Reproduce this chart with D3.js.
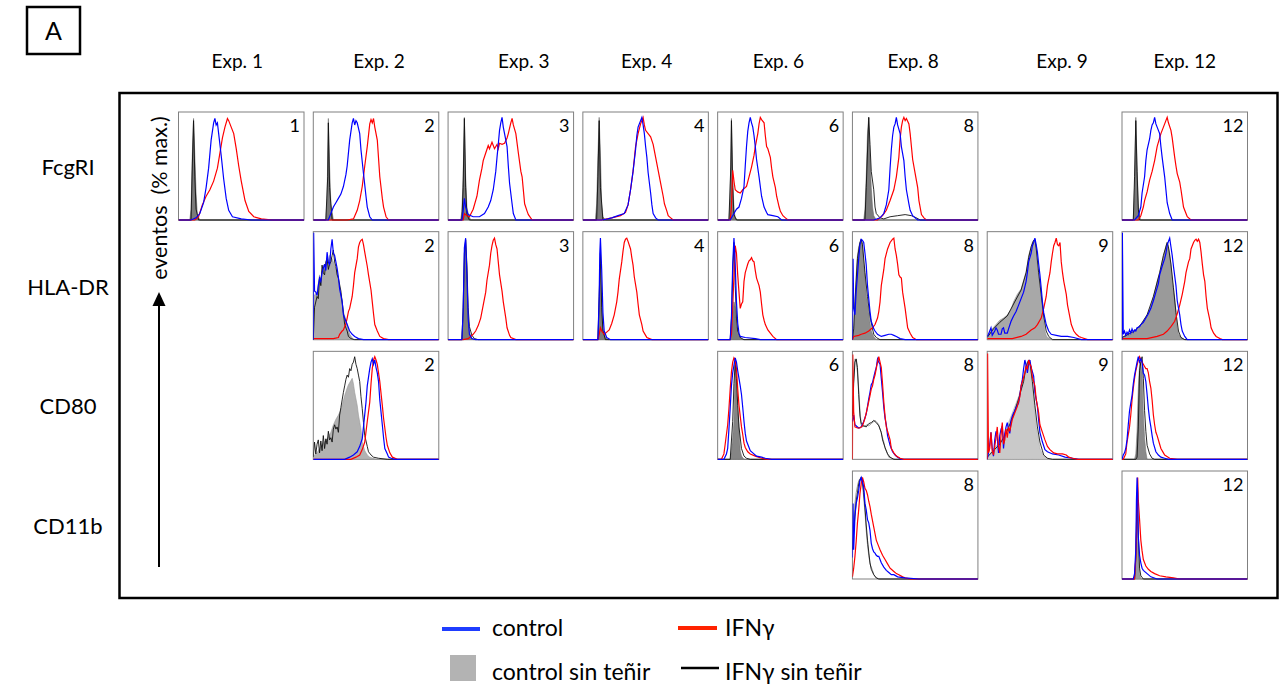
<!DOCTYPE html>
<html>
<head>
<meta charset="utf-8">
<script src="https://cdn.jsdelivr.net/npm/d3@7/dist/d3.min.js"></script>
<style>
  body { margin: 0; background: #fff; }
  text { font-family: Lato, "Open Sans", sans-serif; fill: #000; }
</style>
</head>
<body>
<svg id="fig" width="1281" height="687"></svg>
<script>
// columnas (experimentos) y filas (marcadores)
const exps = ["1", "2", "3", "4", "6", "8", "9", "12"];
const markers = ["FcgRI", "HLA-DR", "CD80", "CD11b"];

// histogramas: [canal (% ancho), eventos (% max.)]
// --- FcgRI ---
const fcgri1Gray = [[9,0],[10,10],[11,60],[12,94],[13,60],[14,25],[15,5],[17,0]];
const fcgri1Black = [[10,0],[11,50],[12,92],[13,40],[14,10],[16,0]];
const fcgri1Blue = [[10,0],[14,2],[17,6],[20,16],[22,30],[24,48],[26,74],[28,90],[29,94],[30,88],[31,90],[32,80],[34,60],[36,38],[38,20],[40,9],[43,3],[50,1],[58,0]];
const fcgri1Red = [[13,0],[16,3],[19,14],[22,22],[25,28],[28,36],[31,48],[33,62],[35,76],[37,86],[39,94],[40,92],[42,86],[44,80],[46,66],[48,50],[50,36],[53,18],[56,8],[60,3],[66,1],[75,0]];

const fcgri2Gray = [[10,0],[11,20],[12,94],[13,50],[14,15],[16,0]];
const fcgri2Black = [[10,0],[11.5,40],[12,90],[13,30],[15,0]];
const fcgri2Blue = [[12,0],[14,6],[16,12],[18,16],[20,20],[22,24],[24,31],[26,42],[27,50],[29,74],[31,90],[32,94],[33,88],[34,92],[35,90],[37,80],[38,65],[40,43],[42,22],[43,12],[45,3],[47,0]];
const fcgri2Red = [[27,0],[32,1],[35,9],[37,18],[39,31],[41,50],[43,68],[45,89],[46,93],[47,90],[48,94],[49,86],[51,74],[53,40],[55,20],[56,12],[58,3],[60,0]];

const fcgri3Gray = [[10,0],[11,8],[12,40],[13,95],[14,40],[15,12],[16,6],[18,0]];
const fcgri3Black = [[11,0],[12,30],[13,94],[14,30],[15,5],[17,0]];
const fcgri3Blue = [[11,0],[12,8],[13,20],[14,12],[16,5],[20,3],[25,3],[29,6],[32,12],[34,18],[36,28],[38,45],[39,58],[40,70],[41,83],[42,90],[43,95],[44,86],[45,80],[47,68],[48,50],[49,34],[51,15],[52,6],[54,0]];
const fcgri3Red = [[12,0],[13,6],[15,4],[17,3],[20,10],[23,22],[25,37],[27,48],[28,55],[30,62],[32,69],[33,66],[35,72],[37,66],[39,70],[40,66],[41,71],[43,70],[45,71],[47,76],[48,80],[50,90],[51,94],[52,88],[54,80],[56,62],[58,45],[59,40],[61,15],[63,8],[64,5],[67,0]];

const fcgri4Gray = [[10,0],[11,15],[12,60],[13,95],[14,60],[15,15],[16,3],[18,0]];
const fcgri4Black = [[11,0],[12,40],[13,92],[14,30],[16,0]];
const fcgri4Blue = [[15,0],[20,1],[23,2],[28,4],[33,6],[36,14],[38,28],[40,45],[42,65],[43,78],[44,86],[46,92],[47,95],[48,88],[49,80],[50,68],[51,58],[52,44],[54,25],[55,14],[56,6],[58,2],[60,0]];
const fcgri4Red = [[15,0],[23,2],[30,4],[34,7],[36,14],[38,28],[40,45],[42,68],[44,80],[46,89],[47,92],[48,95],[49,88],[50,83],[52,80],[54,77],[56,70],[58,58],[60,46],[62,34],[64,22],[65,15],[67,8],[68,4],[70,2],[72,0]];

const fcgri6Gray = [[9,0],[10,20],[11,94],[12,40],[13,10],[14,2],[16,0]];
const fcgri6Black = [[9,0],[10.5,50],[11,92],[12,30],[13,5],[15,0]];
const fcgri6Blue = [[10,0],[13,6],[15,10],[17,12],[19,20],[21,31],[22,50],[23,68],[24,82],[25,90],[26,95],[27,90],[28,86],[29,78],[30,68],[31,56],[33,40],[35,22],[37,12],[39,7],[40,5],[44,4],[48,3],[51,0]];
const fcgri6Red = [[10,0],[11,12],[12,46],[13,36],[14,28],[16,26],[18,25],[20,28],[23,31],[25,40],[27,49],[29,60],[30,68],[32,80],[33,89],[34,95],[35,93],[37,90],[38,78],[39,68],[40,66],[42,58],[43,48],[44,40],[46,30],[47,22],[49,12],[50,8],[52,4],[54,2],[56,0]];

const fcgri8Gray = [[9,0],[10,10],[11,40],[12,80],[13,95],[14,60],[15,30],[16,12],[17,4],[19,0]];
const fcgri8Black = [[10,0],[11,30],[13,95],[14,70],[15,45],[17,28],[18,12],[19,6],[22,2],[25,1],[30,3],[36,4],[42,5],[47,4],[51,2],[54,0]];
const fcgri8Blue = [[17,0],[22,2],[25,6],[27,14],[29,28],[30,48],[31,65],[32,78],[33,86],[34,89],[35,95],[36,88],[38,80],[39,68],[41,55],[42,40],[43,28],[45,15],[46,9],[48,4],[50,2],[52,0]];
const fcgri8Red = [[20,0],[24,4],[27,9],[30,18],[33,28],[35,40],[37,58],[38,75],[39,86],[40,92],[41,95],[42,92],[43,94],[45,89],[46,80],[47,68],[48,56],[50,43],[52,30],[53,18],[55,5],[57,2],[59,0]];

const fcgri12Gray = [[9,0],[10,30],[11,95],[12,50],[13,15],[14,3],[15,0]];
const fcgri12Black = [[9,0],[10,40],[11,92],[12,45],[13,10],[14,0]];
const fcgri12Blue = [[10,0],[13,4],[15,12],[16,25],[18,40],[19,55],[20,65],[22,75],[23,83],[24,88],[25,90],[26,95],[27,89],[28,86],[30,80],[31,68],[32,58],[34,40],[35,28],[36,16],[38,6],[40,0]];
const fcgri12Red = [[13,0],[15,4],[17,12],[18,18],[20,26],[22,37],[24,45],[26,55],[28,68],[30,76],[31,80],[33,86],[34,89],[36,95],[37,90],[39,83],[40,76],[42,58],[43,50],[44,43],[46,35],[47,28],[48,20],[49,12],[51,6],[52,3],[55,0]];

// --- HLA-DR ---
const hla2Gray = [[0,40],[3,44],[5,60],[6,55],[8,69],[9,64],[11,75],[12,70],[13,78],[15,75],[16,72],[18,66],[19,63],[20,55],[21,47],[23,36],[24,26],[26,18],[27,14],[29,5],[32,0]];
const hla2Black = [[1,30],[3,40],[4,38],[5,58],[6,50],[7,69],[8,62],[9,60],[10,72],[11,75],[12,65],[13,70],[14,72],[15,78],[16,83],[17,72],[18,68],[19,60],[20,57],[22,45],[23,35],[24,25],[25,14],[27,8],[28,3],[30,1],[33,0]];
const hla2Blue = [[0,0],[0.3,99],[1,45],[2,44],[3,41],[4,50],[5,57],[6,54],[7,62],[8,66],[9,70],[10,64],[11,81],[12,72],[13,69],[14,84],[15,93],[16,80],[17,78],[18,72],[19,66],[20,58],[21,47],[23,35],[24,23],[26,17],[27,14],[29,8],[31,5],[33,3],[36,1],[40,0]];
const hla2Red = [[0,1],[10,1],[16,1],[20,2],[21,5],[23,8],[24,9],[26,15],[27,20],[28,26],[29,29],[31,40],[32,50],[33,62],[35,75],[36,86],[37,90],[38,92],[39,93],[40,88],[41,81],[43,68],[44,60],[46,46],[47,35],[48,24],[49,14],[51,8],[53,3],[56,1],[60,0]];

const hla3Gray = [[11,0],[12,20],[13,70],[14,93],[15,60],[16,20],[17,8],[18,3],[20,0]];
const hla3Black = [[11,0],[12,30],[13,80],[14,92],[15,70],[16,30],[17,12],[19,4],[21,1],[24,0]];
const hla3Blue = [[11,0],[12,25],[13,85],[14,94],[15,60],[16,20],[17,5],[19,1],[22,0]];
const hla3Red = [[12,0],[16,1],[18,3],[20,5],[22,8],[24,13],[26,20],[28,32],[30,44],[31,55],[33,69],[34,80],[35,87],[36,92],[37,94],[38,88],[39,84],[40,72],[41,60],[43,45],[44,35],[46,20],[47,11],[49,4],[50,2],[54,0]];

const hla4Gray = [[12,0],[13,30],[13.5,65],[14,70],[15,35],[16,10],[18,2],[20,0]];
const hla4Black = [[12,0],[13,40],[14,80],[15,30],[16,8],[18,0]];
const hla4Blue = [[12,0],[13,40],[13.5,80],[14,94],[15,65],[16,25],[17,8],[19,2],[22,0]];
const hla4Red = [[12,0],[13,5],[14,11],[15,8],[17,5],[19,7],[21,9],[23,15],[25,23],[27,35],[28,44],[29,56],[31,72],[32,82],[33,90],[34,93],[35,94],[36,91],[38,84],[39,76],[40,69],[41,58],[43,44],[44,33],[45,23],[47,14],[48,8],[50,4],[51,2],[55,0]];

const hla6Gray = [[10,0],[11,8],[12,22],[13,35],[14,30],[15,15],[16,6],[18,2],[20,0]];
const hla6Black = [[10,0],[11,20],[12,60],[13,90],[14,50],[15,20],[16,8],[18,2],[21,0]];
const hla6Blue = [[10,0],[11,20],[12,70],[13,94],[14,70],[15,35],[16,15],[17,6],[18,3],[22,2],[30,1],[34,0]];
const hla6Red = [[10,0],[11,5],[12,30],[13,60],[14,87],[15,80],[16,60],[17,44],[18,29],[19,33],[20,35],[21,54],[22,62],[23,66],[24,70],[25,73],[26,74],[27,76],[28,73],[29,72],[30,64],[31,57],[33,50],[34,44],[35,33],[36,23],[37,18],[38,14],[40,9],[42,6],[44,3],[47,0]];

const hla8Gray = [[0,0],[1,8],[2,30],[3,60],[4,78],[5,86],[6,90],[7,93],[8,88],[9,70],[10,60],[11,42],[13,26],[14,16],[15,8],[17,3],[19,0]];
const hla8Black = [[0,0],[1,10],[2,35],[4,75],[6,90],[7,93],[8,88],[10,62],[12,40],[14,22],[16,10],[17,5],[19,2],[22,0]];
const hla8Blue = [[0,0],[0.5,75],[1,30],[2,23],[3,45],[4,60],[5,75],[6,88],[7,93],[8,92],[9,90],[10,80],[11,69],[12,50],[13,38],[14,26],[15,17],[17,10],[18,8],[20,5],[23,3],[26,4],[29,5],[31,5],[33,4],[35,3],[38,1],[42,0]];
const hla8Red = [[0,0],[1,3],[5,4],[7,5],[10,6],[13,8],[16,11],[18,14],[20,20],[21,26],[22,35],[23,50],[25,65],[26,75],[28,84],[30,90],[32,93],[33,94],[34,84],[35,78],[36,70],[37,60],[38,58],[39,57],[40,44],[42,29],[43,20],[44,11],[46,6],[48,2],[51,0]];

const hla9Gray = [[0,3],[1,5],[4,10],[7,14],[10,18],[13,20],[16,23],[19,28],[21,35],[24,42],[27,47],[29,55],[31,63],[32,70],[33,78],[35,86],[36,90],[37,92],[38,93],[39,85],[40,69],[41,60],[42,50],[43,40],[44,29],[45,18],[46,8],[47,4],[48,2],[53,0]];
const hla9Black = [[0,2],[5,10],[10,16],[16,22],[21,33],[27,46],[31,62],[33,76],[35,86],[37,92],[38,93],[39,85],[41,62],[43,42],[45,22],[47,8],[49,3],[52,0]];
const hla9Blue = [[0,3],[1,5],[3,11],[4,4],[6,8],[7,11],[8,9],[9,5],[11,5],[12,10],[13,11],[14,6],[16,6],[17,10],[19,17],[21,22],[23,26],[25,32],[27,38],[29,44],[31,54],[32,62],[33,72],[35,80],[36,87],[37,90],[38,94],[39,88],[40,81],[41,70],[42,60],[43,48],[44,35],[45,25],[47,14],[49,8],[51,5],[55,4],[59,3],[64,3],[69,2],[75,0]];
const hla9Red = [[0,1],[10,1],[20,1],[27,3],[31,5],[35,9],[38,11],[40,14],[43,20],[45,29],[47,40],[48,50],[50,62],[51,72],[52,80],[53,87],[54,90],[55,94],[56,88],[57,87],[58,90],[59,72],[60,62],[61,54],[63,42],[64,32],[66,20],[67,14],[69,8],[71,5],[73,3],[75,2],[80,0]];

const hla12Gray = [[0,2],[3,4],[7,5],[10,8],[13,11],[15,14],[18,18],[20,23],[22,28],[24,35],[26,44],[28,54],[30,62],[32,72],[33,78],[34,82],[35,87],[36,90],[37,85],[38,80],[39,69],[40,55],[42,38],[43,25],[44,11],[45,5],[47,2],[50,0]];
const hla12Black = [[0,2],[5,5],[10,8],[15,14],[20,23],[25,40],[30,62],[33,78],[36,90],[37,86],[39,70],[41,48],[43,25],[45,8],[47,2],[50,0]];
const hla12Blue = [[0,0],[0.3,99],[1,5],[2,8],[3,4],[4,7],[5,5],[6,9],[7,6],[8,10],[9,7],[10,9],[11,8],[12,11],[14,12],[15,14],[17,16],[19,20],[21,24],[23,29],[25,36],[27,44],[29,52],[30,60],[32,68],[34,75],[35,80],[36,87],[37,91],[38,94],[39,86],[40,78],[41,68],[43,50],[44,36],[46,23],[47,14],[48,8],[50,3],[52,0]];
const hla12Red = [[0,1],[10,1],[20,1],[28,3],[33,5],[36,8],[39,12],[42,17],[44,24],[46,32],[48,42],[50,54],[51,62],[53,72],[54,75],[55,84],[56,87],[57,90],[58,92],[59,93],[60,91],[61,93],[62,90],[63,81],[64,70],[65,60],[66,54],[67,40],[68,29],[70,18],[71,11],[73,6],[75,3],[78,1],[80,0]];

// --- CD80 ---
const cd80_2Gray = [[0,3],[3,6],[5,10],[8,15],[11,19],[14,25],[16,32],[18,37],[20,41],[22,46],[23,50],[25,59],[27,66],[28,69],[30,73],[31,75],[32,70],[33,62],[35,50],[36,41],[38,28],[39,16],[41,8],[43,4],[45,2],[50,0]];
const cd80_2Black = [[0,2],[1,16],[2,5],[3,14],[4,18],[5,6],[6,17],[7,8],[8,22],[9,10],[10,19],[11,14],[12,26],[13,18],[14,20],[15,16],[16,28],[17,32],[18,28],[19,30],[20,25],[21,41],[22,48],[23,55],[24,62],[25,68],[26,74],[27,78],[28,76],[29,84],[30,82],[31,88],[32,90],[33,95],[34,88],[35,84],[36,78],[37,72],[38,58],[39,47],[40,34],[41,22],[43,12],[44,7],[46,4],[48,2],[52,1],[59,0]];
const cd80_2Blue = [[25,0],[29,2],[32,4],[35,7],[37,12],[39,19],[40,30],[42,53],[43,68],[45,84],[46,90],[47,93],[48,88],[49,92],[50,85],[51,80],[52,72],[53,55],[55,32],[56,20],[57,10],[59,5],[60,2],[62,1],[65,0]];
const cd80_2Red = [[30,0],[34,2],[37,4],[39,9],[41,16],[43,35],[45,53],[46,70],[47,84],[48,92],[49,95],[50,92],[51,88],[52,80],[53,72],[55,50],[56,38],[58,20],[59,13],[61,6],[63,2],[67,0]];

const cd80_6Gray = [[10,0],[11,8],[12,20],[13,35],[14,87],[15,70],[16,45],[17,29],[18,8],[19,3],[21,0]];
const cd80_6Black = [[10,0],[12,35],[13,70],[14,90],[15,75],[16,50],[17,30],[19,10],[21,3],[23,1],[26,0]];
const cd80_6Blue = [[5,0],[7,5],[8,10],[9,28],[10,47],[11,68],[12,80],[13,87],[14,94],[15,90],[16,82],[17,75],[18,68],[19,60],[20,48],[21,35],[22,24],[23,17],[25,11],[26,8],[28,6],[31,3],[35,2],[38,1],[43,0]];
const cd80_6Red = [[3,0],[5,5],[6,14],[8,32],[9,47],[10,65],[11,81],[12,90],[13,94],[14,92],[15,84],[16,65],[17,50],[18,40],[19,30],[20,23],[21,15],[22,11],[24,7],[26,5],[30,3],[35,1],[40,0]];

const cd80_8Gray = [[0,50],[1,75],[2,93],[3,92],[4,80],[5,65],[6,45],[7,32],[8,30],[10,31],[12,32],[13,31],[15,33],[17,35],[18,36],[19,35],[21,32],[22,28],[23,24],[25,16],[26,10],[28,5],[29,2],[31,1],[34,0]];
const cd80_8Black = [[0,40],[1,70],[2,90],[3,93],[4,85],[5,60],[6,40],[7,33],[9,31],[11,30],[13,33],[15,34],[17,36],[19,34],[21,31],[23,25],[24,18],[26,11],[28,5],[30,2],[33,0]];
const cd80_8Blue = [[0,35],[1,41],[2,32],[4,30],[5,29],[7,30],[9,35],[11,42],[13,56],[14,62],[15,69],[16,71],[17,76],[18,81],[19,85],[20,93],[21,90],[22,88],[23,75],[24,62],[25,48],[26,38],[27,32],[28,22],[30,13],[32,7],[34,4],[36,2],[39,0]];
const cd80_8Red = [[0,0],[0.3,97],[1,44],[2,30],[4,29],[6,29],[8,31],[10,38],[12,48],[14,59],[15,65],[16,68],[17,74],[18,78],[19,84],[20,90],[21,95],[22,90],[23,85],[24,70],[25,53],[26,40],[27,30],[28,26],[30,18],[31,10],[33,6],[35,3],[38,1],[41,0]];

const cd80_9Gray = [[0,3],[2,5],[5,10],[7,12],[10,16],[12,19],[15,26],[17,34],[19,40],[21,46],[23,52],[25,58],[27,66],[29,74],[30,82],[31,89],[32,90],[33,92],[34,92],[35,80],[36,69],[37,58],[38,43],[39,30],[41,18],[42,10],[44,5],[46,2],[50,0]];
const cd80_9Black = [[0,2],[5,8],[10,14],[15,24],[20,38],[25,56],[29,72],[31,86],[33,92],[34,90],[36,72],[38,50],[40,30],[42,16],[44,8],[45,4],[48,1],[52,0]];
const cd80_9Blue = [[0,0],[1,6],[2,14],[3,25],[4,10],[5,3],[6,18],[7,26],[8,20],[9,6],[10,22],[11,28],[12,31],[13,10],[14,24],[15,30],[16,34],[17,28],[18,24],[19,36],[20,40],[21,43],[22,45],[23,48],[25,52],[26,60],[27,68],[28,74],[29,84],[30,92],[31,87],[32,80],[33,88],[34,92],[35,85],[37,77],[38,62],[40,49],[41,36],[42,25],[44,16],[46,9],[48,7],[52,5],[57,4],[62,2],[68,1],[73,0]];
const cd80_9Red = [[0,0],[0.3,98],[1,6],[2,10],[3,25],[4,8],[5,4],[6,12],[7,20],[8,30],[9,12],[10,6],[11,22],[12,34],[13,14],[14,18],[15,28],[16,20],[17,30],[18,26],[20,37],[22,43],[24,49],[26,58],[27,68],[28,72],[30,80],[31,86],[32,84],[33,92],[34,88],[35,86],[36,76],[38,68],[39,56],[41,43],[42,32],[44,25],[46,18],[48,12],[50,9],[53,6],[56,5],[60,5],[63,4],[65,2],[68,1],[72,0]];

const cd80_12Gray = [[10,0],[11,5],[12,26],[13,66],[14,88],[15,90],[16,80],[17,42],[18,20],[19,7],[20,0]];
const cd80_12Black = [[11,0],[12,2],[13,30],[14,82],[15,90],[16,95],[17,75],[18,45],[19,26],[20,13],[22,5],[24,1],[26,0]];
const cd80_12Blue = [[0,0],[1,4],[2,6],[3,10],[4,18],[5,32],[6,45],[7,52],[8,59],[9,70],[10,78],[11,84],[12,90],[13,95],[14,90],[15,93],[16,90],[17,80],[18,78],[19,72],[20,60],[21,47],[22,37],[23,30],[24,22],[25,15],[27,7],[29,4],[31,2],[34,1],[37,0]];
const cd80_12Red = [[1,0],[3,5],[4,16],[6,30],[7,41],[8,55],[9,66],[10,75],[11,82],[12,87],[13,92],[14,95],[15,92],[16,90],[17,88],[18,86],[19,84],[20,84],[21,80],[22,72],[23,66],[24,55],[25,41],[26,32],[27,25],[28,22],[30,14],[31,10],[33,6],[34,4],[38,1],[44,0]];

// --- CD11b ---
const cd11b8Gray = [[0,30],[1,50],[2,70],[3,80],[4,86],[5,91],[6,93],[7,94],[8,88],[9,75],[10,62],[11,45],[12,32],[13,22],[14,14],[16,8],[17,4],[19,1],[22,0]];
const cd11b8Black = [[0,27],[1,45],[3,72],[5,88],[6,92],[7,94],[8,90],[9,80],[10,66],[11,50],[12,36],[13,25],[14,15],[15,9],[17,4],[19,1],[21,0]];
const cd11b8Blue = [[0,20],[0.5,70],[1,27],[2,58],[3,70],[4,75],[5,82],[6,91],[7,94],[8,90],[9,85],[10,70],[11,64],[12,55],[13,52],[14,45],[15,33],[16,28],[17,25],[18,24],[19,22],[20,21],[21,21],[22,18],[23,15],[25,11],[27,8],[29,6],[31,4],[33,4],[36,2],[42,1],[53,0]];
const cd11b8Red = [[0,2],[1,10],[2,21],[3,35],[4,52],[5,64],[6,79],[7,88],[8,94],[9,90],[10,84],[11,82],[12,78],[13,72],[14,67],[15,60],[17,48],[19,36],[21,30],[22,27],[24,22],[26,18],[28,14],[30,10],[31,9],[33,7],[35,5],[37,4],[40,2],[42,1],[46,0]];

const cd11b12Gray = [[10,0],[11,15],[12,60],[13,25],[14,5],[15,0]];
const cd11b12Black = [[10,0],[11,20],[12,80],[13,40],[14,10],[15,3],[17,0]];
const cd11b12Blue = [[9,0],[10,5],[11,27],[11.5,73],[12,94],[12.5,80],[13,39],[14,22],[15,15],[16,10],[17,8],[20,5],[23,2],[28,0]];
const cd11b12Red = [[10,0],[11,20],[12,58],[12.5,94],[13,73],[14,55],[15,36],[16,26],[17,18],[19,12],[21,9],[23,7],[26,5],[30,3],[35,2],[41,1],[46,0]];

// que panel va en que fila / columna
const panels = [
  { row: 0, col: 0, gray: fcgri1Gray, black: fcgri1Black, blue: fcgri1Blue, red: fcgri1Red },
  { row: 0, col: 1, gray: fcgri2Gray, black: fcgri2Black, blue: fcgri2Blue, red: fcgri2Red },
  { row: 0, col: 2, gray: fcgri3Gray, black: fcgri3Black, blue: fcgri3Blue, red: fcgri3Red },
  { row: 0, col: 3, gray: fcgri4Gray, black: fcgri4Black, blue: fcgri4Blue, red: fcgri4Red },
  { row: 0, col: 4, gray: fcgri6Gray, black: fcgri6Black, blue: fcgri6Blue, red: fcgri6Red },
  { row: 0, col: 5, gray: fcgri8Gray, black: fcgri8Black, blue: fcgri8Blue, red: fcgri8Red },
  { row: 0, col: 7, gray: fcgri12Gray, black: fcgri12Black, blue: fcgri12Blue, red: fcgri12Red },
  { row: 1, col: 1, gray: hla2Gray, black: hla2Black, blue: hla2Blue, red: hla2Red },
  { row: 1, col: 2, gray: hla3Gray, black: hla3Black, blue: hla3Blue, red: hla3Red },
  { row: 1, col: 3, gray: hla4Gray, black: hla4Black, blue: hla4Blue, red: hla4Red },
  { row: 1, col: 4, gray: hla6Gray, black: hla6Black, blue: hla6Blue, red: hla6Red },
  { row: 1, col: 5, gray: hla8Gray, black: hla8Black, blue: hla8Blue, red: hla8Red },
  { row: 1, col: 6, gray: hla9Gray, black: hla9Black, blue: hla9Blue, red: hla9Red },
  { row: 1, col: 7, gray: hla12Gray, black: hla12Black, blue: hla12Blue, red: hla12Red },
  { row: 2, col: 1, gray: cd80_2Gray, black: cd80_2Black, blue: cd80_2Blue, red: cd80_2Red },
  { row: 2, col: 4, gray: cd80_6Gray, black: cd80_6Black, blue: cd80_6Blue, red: cd80_6Red },
  { row: 2, col: 5, gray: cd80_8Gray, black: cd80_8Black, blue: cd80_8Blue, red: cd80_8Red },
  { row: 2, col: 6, gray: cd80_9Gray, black: cd80_9Black, blue: cd80_9Blue, red: cd80_9Red },
  { row: 2, col: 7, gray: cd80_12Gray, black: cd80_12Black, blue: cd80_12Blue, red: cd80_12Red },
  { row: 3, col: 5, gray: cd11b8Gray, black: cd11b8Black, blue: cd11b8Blue, red: cd11b8Red },
  { row: 3, col: 7, gray: cd11b12Gray, black: cd11b12Black, blue: cd11b12Blue, red: cd11b12Red }
];

// estilos: tono del relleno gris por panel ("fila-col"), null = solo linea
const grayShade = {
  "1-1": "#ababab", "1-2": "#7c7c7c", "1-3": "#7c7c7c", "1-4": "#7c7c7c", "1-5": "#8c8c8c",
  "1-6": "#a8a8a8", "1-7": "#9a9a9a", "2-1": "#b2b2b2", "2-4": "#858585", "2-5": null,
  "2-6": "#c9c9c9", "2-7": "#8a8a8a", "3-5": null, "3-7": "#9a9a9a"
};
const redOnTop = ["2-5", "2-6"];
const headerShift = [-4, 3, 13, 1, -2, -2, 12, 0];

const BLUE = "#0000ff", RED = "#ff0000";

const svg = d3.select("#fig");

// layout de la rejilla
const pw = 125.5, ph = 108;
const colX = d3.scaleLinear().domain([0, exps.length - 1]).range([178.5, 1122]);
const rowY = d3.scaleLinear().domain([0, markers.length - 1]).range([112, 471]);

// recuadro "A"
svg.append("rect").attr("x", 27).attr("y", 7).attr("width", 53).attr("height", 47)
  .attr("fill", "none").attr("stroke", "#000").attr("stroke-width", 2.5);
svg.append("text").attr("x", 53.5).attr("y", 40).attr("text-anchor", "middle")
  .style("font-size", "25px").text("A");

// marco exterior
svg.append("rect").attr("x", 119.5).attr("y", 93).attr("width", 1158).attr("height", 505)
  .attr("fill", "none").attr("stroke", "#000").attr("stroke-width", 2.5);

// cabeceras
svg.selectAll(".hdr").data(exps).enter().append("text")
  .attr("class", "hdr")
  .attr("x", (d, i) => colX(i) + pw / 2 + headerShift[i])
  .attr("y", 68)
  .attr("text-anchor", "middle")
  .style("font-size", "19px")
  .text(d => "Exp. " + d);

// etiquetas de fila
svg.selectAll(".rowlab").data(markers).enter().append("text")
  .attr("class", "rowlab")
  .attr("x", 68)
  .attr("y", (d, i) => rowY(i) + ph / 2 + 9)
  .attr("text-anchor", "middle")
  .style("font-size", "22px")
  .text(d => d);

// eje y comun
svg.append("text")
  .attr("transform", "translate(167,198) rotate(-90)")
  .attr("text-anchor", "middle")
  .style("font-size", "21.5px")
  .style("white-space", "pre")
  .text("eventos  (% max.)");
svg.append("line").attr("x1", 159).attr("x2", 159).attr("y1", 567).attr("y2", 302)
  .attr("stroke", "#000").attr("stroke-width", 2);
svg.append("path").attr("d", "M159,292 L152.5,306 L165.5,306 Z").attr("fill", "#000");

// paneles
const x = d3.scaleLinear().domain([0, 100]).range([0, pw]);
const y = d3.scaleLinear().domain([0, 100]).range([ph, 0]);
const withBase = pts => {
  const out = pts.slice();
  if (out[0][0] > 0) out.unshift([0, 0]);
  if (out[out.length - 1][0] < 100) out.push([100, 0]);
  return out;
};
const line = d3.line().x(d => x(d[0])).y(d => y(d[1]));
const area = d3.area().x(d => x(d[0])).y0(ph).y1(d => y(d[1]));

panels.forEach((p, k) => {
  const key = p.row + "-" + p.col;
  const g = svg.append("g").attr("transform", `translate(${colX(p.col)},${rowY(p.row)})`);
  const clipId = "clip" + k;
  g.append("clipPath").attr("id", clipId).append("rect")
    .attr("x", 0).attr("y", 0).attr("width", pw).attr("height", ph + 1);

  g.append("rect").attr("width", pw).attr("height", ph)
    .attr("fill", "#fff").attr("stroke", "#808080").attr("stroke-width", 1);

  const c = g.append("g").attr("clip-path", `url(#${clipId})`);
  const shade = key in grayShade ? grayShade[key] : "#7a7a7a";
  if (shade) {
    c.append("path").attr("d", area(withBase(p.gray)))
      .attr("fill", shade).attr("stroke", d3.color(shade).darker(0.4)).attr("stroke-width", 0.6);
  } else {
    c.append("path").attr("d", line(withBase(p.gray)))
      .attr("fill", "none").attr("stroke", "#9a9a9a").attr("stroke-width", 1);
  }
  c.append("path").attr("d", line(withBase(p.black)))
    .attr("fill", "none").attr("stroke", "#111").attr("stroke-width", 0.9);

  const order = redOnTop.includes(key) ? [[p.blue, BLUE], [p.red, RED]] : [[p.red, RED], [p.blue, BLUE]];
  order.forEach(([pts, col]) => {
    c.append("path").attr("d", line(withBase(pts)))
      .attr("fill", "none").attr("stroke", col).attr("stroke-width", 1.2);
  });

  g.append("text").attr("x", pw - 4).attr("y", 20).attr("text-anchor", "end")
    .style("font-size", "18px").text(exps[p.col]);
});

// leyenda
const legend = svg.append("g");
legend.append("line").attr("x1", 442).attr("x2", 480).attr("y1", 629).attr("y2", 629)
  .attr("stroke", "#1f3dff").attr("stroke-width", 4);
legend.append("text").attr("x", 492).attr("y", 636).style("font-size", "23px").text("control");
legend.append("line").attr("x1", 678).attr("x2", 717).attr("y1", 628).attr("y2", 628)
  .attr("stroke", "#ff2200").attr("stroke-width", 4);
legend.append("text").attr("x", 725).attr("y", 636).style("font-size", "23px").text("IFNγ");
legend.append("rect").attr("x", 450).attr("y", 655).attr("width", 26).attr("height", 26)
  .attr("fill", "#b3b3b3");
legend.append("text").attr("x", 492).attr("y", 680).style("font-size", "23px").text("control sin teñir");
legend.append("line").attr("x1", 681).attr("x2", 719).attr("y1", 668).attr("y2", 668)
  .attr("stroke", "#000").attr("stroke-width", 2.5);
legend.append("text").attr("x", 725).attr("y", 680).style("font-size", "23px").text("IFNγ sin teñir");
</script>
</body>
</html>
